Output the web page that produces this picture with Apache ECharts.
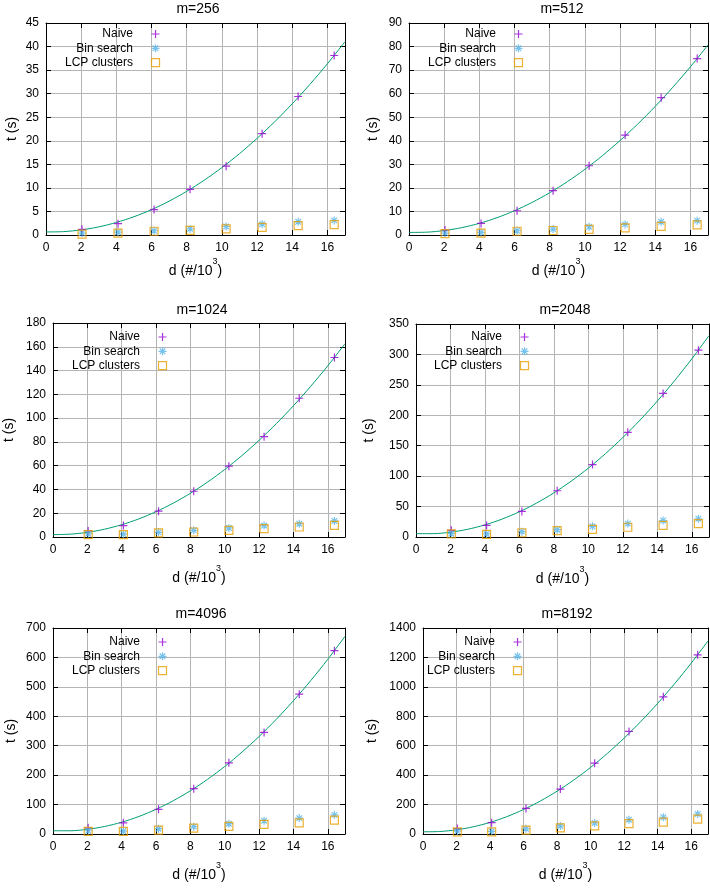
<!DOCTYPE html>
<html>
<head>
<meta charset="utf-8">
<script src="https://cdn.jsdelivr.net/npm/echarts@6/dist/echarts.min.js"></script>
<style>
html,body{margin:0;padding:0;background:#fff;}
#chart{width:710px;height:890px;}
</style>
</head>
<body>
<div id="chart"></div>
<script>
// ---------------- DATA ----------------
const panelTitles = ['m=256', 'm=512', 'm=1024', 'm=2048', 'm=4096', 'm=8192'];
const seriesNames = ['Naive', 'Bin search', 'LCP clusters'];
const dValues = [2.048, 4.096, 6.144, 8.192, 10.24, 12.288, 14.336, 16.384];
const xTickMax = 17;
const xTickStep = 2;
const yTickMax = [45, 90, 180, 350, 700, 1400];
const yTickStep = [5, 10, 20, 50, 100, 200];

const naive256 = [1.2, 2.4, 5.4, 9.7, 14.6, 21.5, 29.4, 38.1];
const bin256   = [0.4, 0.6, 0.9, 1.3, 1.8, 2.3, 2.8, 3.1];
const lcp256   = [0.2, 0.4, 0.8, 1.0, 1.3, 1.6, 2.0, 2.2];

const naive512 = [2.1, 4.9, 10.3, 18.8, 29.4, 42.4, 58.3, 74.9];
const bin512   = [0.8, 1.1, 1.8, 2.5, 3.5, 4.5, 5.6, 6.1];
const lcp512   = [0.6, 0.8, 1.6, 1.9, 2.4, 3.0, 3.7, 4.3];

const naive1024 = [5.1, 9.6, 21.7, 38.5, 59.6, 84.4, 116.7, 151.0];
const bin1024   = [2.8, 2.4, 3.9, 5.6, 7.6, 9.6, 11.2, 13.5];
const lcp1024   = [2.0, 2.0, 3.4, 4.2, 5.6, 7.0, 8.4, 9.8];

const naive2048 = [11, 19, 42, 76, 119, 172, 236, 307];
const bin2048   = [5.5, 5.0, 8.8, 12.0, 17.6, 22.0, 27.0, 30.0];
const lcp2048   = [5.0, 4.4, 7.0, 10.4, 12.6, 16.0, 19.2, 22.0];

const naive4096 = [21, 38, 84, 154, 242, 345, 475, 623];
const bin4096   = [11, 10, 18, 25, 35, 45, 54, 65];
const lcp4096   = [9, 9, 13, 20, 26, 33, 38, 47];

const naive8192 = [37, 77, 174, 305, 481, 697, 932, 1218];
const bin8192   = [20, 18, 35, 55, 75, 97, 114, 136];
const lcp8192   = [15, 15, 26, 42, 55, 70, 81, 101];

// fitted curve at d = 0,1,...,17
const curveX = [0, 1, 2, 3, 4, 5, 6, 7, 8, 9, 10, 11, 12, 13, 14, 15, 16, 17];
const curve256  = [0.65, 0.72, 1.08, 1.72, 2.66, 3.88, 5.38, 7.18, 9.27, 11.64, 14.31, 17.26, 20.51, 24.03, 27.85, 31.95, 36.35, 41.03];
const curve512  = [1.10, 1.20, 1.88, 3.13, 4.95, 7.34, 10.30, 13.84, 17.95, 22.63, 27.88, 33.70, 40.10, 47.07, 54.61, 62.73, 71.41, 80.67];
const curve1024 = [2.00, 2.38, 3.90, 6.55, 10.33, 15.24, 21.29, 28.47, 36.78, 46.22, 56.80, 68.51, 81.35, 95.32, 110.43, 126.67, 144.04, 162.55];
const curve2048 = [5.50, 5.51, 7.90, 12.69, 19.88, 29.45, 41.42, 55.77, 72.52, 91.67, 113.2, 137.13, 163.44, 192.15, 223.26, 256.75, 292.64, 330.91];
const curve4096 = [11.0, 11.0, 15.84, 25.54, 40.10, 59.53, 83.80, 112.94, 146.94, 185.79, 229.5, 278.07, 331.50, 389.78, 452.92, 520.93, 593.78, 671.50];
const curve8192 = [15.0, 17.02, 28.33, 48.92, 78.79, 117.95, 166.39, 224.12, 291.13, 367.42, 453.0, 547.86, 652.01, 765.44, 888.15, 1020.15, 1161.43, 1312.0];

const naiveSets = [naive256, naive512, naive1024, naive2048, naive4096, naive8192];
const binSets   = [bin256, bin512, bin1024, bin2048, bin4096, bin8192];
const lcpSets   = [lcp256, lcp512, lcp1024, lcp2048, lcp4096, lcp8192];
const curveSets = [curve256, curve512, curve1024, curve2048, curve4096, curve8192];

// ---------------- LAYOUT / STYLE ----------------
const layouts = [
  {left: 46,  top: 23,  width: 299, height: 212, title: [198, 9.5], legend: [65, 28],  xGap: 22, yGap: 27},
  {left: 409, top: 23,  width: 299, height: 212, title: [562, 9.5], legend: [428, 28], xGap: 22, yGap: 29},
  {left: 53,  top: 323, width: 292, height: 214, title: [202, 310], legend: [72, 331], xGap: 27, yGap: 37},
  {left: 416, top: 324, width: 293, height: 213, title: [565, 310], legend: [434, 331], xGap: 28, yGap: 40},
  {left: 53,  top: 628, width: 292, height: 213, title: [201, 614], legend: [72, 636], xGap: 27, yGap: 35},
  {left: 423, top: 628, width: 285, height: 213, title: [567, 614], legend: [427, 636], xGap: 27, yGap: 44}
];
const FONT = "'Liberation Sans', Arial, sans-serif";
const colNaive = '#9400d3', colBin = '#56b4e9', colLcp = '#e69f00', colFit = '#009e73';
const plusPath = 'path://M0,4L8,4M4,0L4,8';
const starPath = 'path://M0,4L8,4M4,0L4,8M1.2,1.2L6.8,6.8M1.2,6.8L6.8,1.2';
const squarePath = 'path://M0,0L8,0L8,8L0,8Z';
const symbols = [plusPath, starPath, squarePath];
const colors = [colNaive, colBin, colLcp];

const grids = [], xAxes = [], yAxes = [], series = [], legends = [], graphics = [];
const tickStyle = {inside: true, length: 5, lineStyle: {color: '#000', width: 1}};
const lineStyleAxis = {show: true, onZero: false, lineStyle: {color: '#000', width: 1}};
const splitStyle = {show: true, lineStyle: {color: '#b4b4b4', width: 1}};

layouts.forEach((L, i) => {
  grids.push({left: L.left, top: L.top, width: L.width, height: L.height, containLabel: false});
  // bottom x
  xAxes.push({
    gridIndex: i, type: 'value', position: 'bottom', min: 0, max: xTickMax, interval: xTickStep,
    axisLine: lineStyleAxis, axisTick: tickStyle, splitLine: splitStyle,
    axisLabel: {margin: 7, showMaxLabel: false, color: '#000', fontSize: 12, fontFamily: FONT},
    name: 'd (#/10{sup|3})', nameLocation: 'middle', nameGap: L.xGap,
    nameTextStyle: {color: '#000', fontSize: 14, fontFamily: FONT, lineHeight: 28,
      rich: {sup: {fontSize: 9, fontFamily: FONT, color: '#000', verticalAlign: 'top', lineHeight: 9}}}
  });
  // top x (mirror ticks)
  xAxes.push({
    gridIndex: i, type: 'value', position: 'top', min: 0, max: xTickMax, interval: xTickStep,
    axisLine: lineStyleAxis, axisTick: tickStyle, splitLine: {show: false}, axisLabel: {show: false}
  });
  // left y
  yAxes.push({
    gridIndex: i, type: 'value', position: 'left', min: 0, max: yTickMax[i], interval: yTickStep[i],
    axisLine: lineStyleAxis, axisTick: tickStyle, splitLine: splitStyle,
    axisLabel: {margin: 7, color: '#000', fontSize: 12, fontFamily: FONT, formatter: v => String(v)},
    name: 't (s)', nameLocation: 'middle', nameGap: L.yGap,
    nameTextStyle: {color: '#000', fontSize: 14, fontFamily: FONT}
  });
  // right y (mirror ticks)
  yAxes.push({
    gridIndex: i, type: 'value', position: 'right', min: 0, max: yTickMax[i], interval: yTickStep[i],
    axisLine: lineStyleAxis, axisTick: tickStyle, splitLine: {show: false}, axisLabel: {show: false}
  });

  const xi = i * 2, yi = i * 2;
  series.push({
    name: 'fit', type: 'line', xAxisIndex: xi, yAxisIndex: yi, smooth: 0.3, showSymbol: false,
    silent: true, lineStyle: {color: colFit, width: 1}, itemStyle: {color: colFit}, z: 2,
    data: curveX.map((x, j) => [x, curveSets[i][j]])
  });
  const sets = [naiveSets[i], binSets[i], lcpSets[i]];
  sets.forEach((vals, k) => {
    series.push({
      name: seriesNames[k], type: 'scatter', xAxisIndex: xi, yAxisIndex: yi,
      symbol: symbols[k], symbolSize: 8, z: 3 + k,
      itemStyle: {color: 'rgba(0,0,0,0)', borderColor: colors[k], borderWidth: 1.2},
      data: dValues.map((x, j) => [x, vals[j]])
    });
  });

  legends.push({
    orient: 'vertical', align: 'right', left: L.legend[0], top: L.legend[1], padding: 0,
    itemWidth: 35, itemHeight: 8, itemGap: 2.3, selectedMode: false,
    textStyle: {color: '#000', fontSize: 12, fontFamily: FONT},
    data: seriesNames.map((n, k) => ({
      name: n, icon: symbols[k],
      itemStyle: {color: 'rgba(0,0,0,0)', borderColor: colors[k], borderWidth: 1.2}
    }))
  });

  graphics.push({
    type: 'text', x: L.title[0], y: L.title[1],
    style: {text: panelTitles[i], align: 'center', verticalAlign: 'middle',
      fontSize: 14, fontFamily: FONT, fill: '#000'}
  });
});

const chart = echarts.init(document.getElementById('chart'), null, {renderer: 'canvas'});
chart.setOption({
  animation: false,
  backgroundColor: '#fff',
  grid: grids,
  xAxis: xAxes,
  yAxis: yAxes,
  legend: legends,
  graphic: graphics,
  series: series
});
</script>
</body>
</html>
